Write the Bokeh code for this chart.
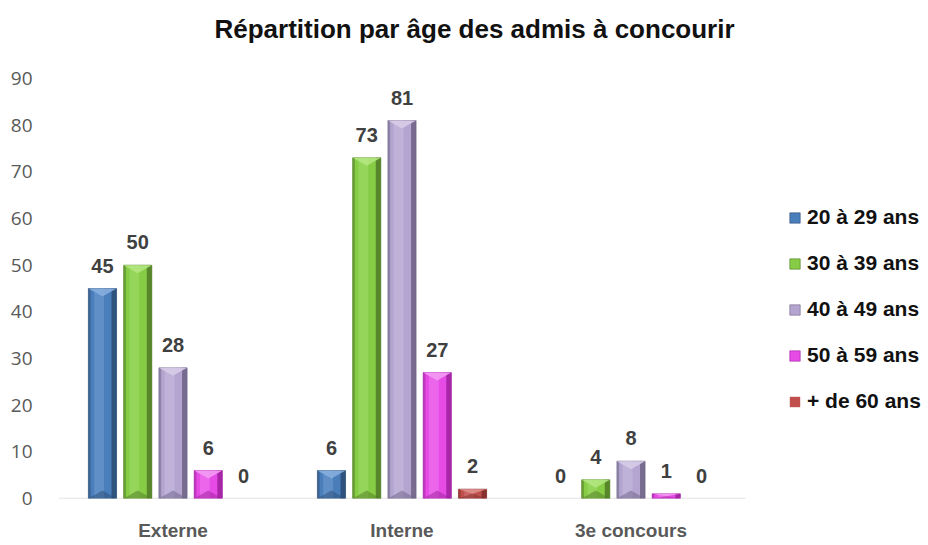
from bokeh.plotting import figure
from bokeh.models import Legend, LegendItem, Label, FixedTicker, ColumnDataSource
from bokeh.core.properties import value
from bokeh.embed import file_html
from bokeh.resources import INLINE

# ---------------- data ----------------
title_text = "Répartition par âge des admis à concourir"
groups = ["Externe", "Interne", "3e concours"]
series_names = ["20 à 29 ans", "30 à 39 ans", "40 à 49 ans", "50 à 59 ans", "+ de 60 ans"]
v_20_29 = [45, 6, 0]
v_30_39 = [50, 73, 4]
v_40_49 = [28, 81, 8]
v_50_59 = [6, 27, 1]
v_60_plus = [0, 2, 0]
y_ticks = [0, 10, 20, 30, 40, 50, 60, 70, 80, 90]

series_values = [v_20_29, v_30_39, v_40_49, v_50_59, v_60_plus]

# colours: main, dark (shadow), light (highlight)
main_cols = ["#4A7EBB", "#86CC45", "#B3A5CF", "#E64BE6", "#C0504D"]
dark_cols = ["#2B4B73", "#4F7A26", "#6C6285", "#9C1F9C", "#7E2C2A"]
light_cols = ["#86AEDE", "#B3E57F", "#D6CCE8", "#F39AF3", "#DE8F8C"]

FONT = "Liberation Sans"

W, H = 928, 545
frame_left, frame_bottom = 58, 498
px_x = 229.0          # pixels per category unit
px_y = 420.0 / 90.0   # pixels per value unit
x_end = -0.5 + (W - frame_left) / px_x
y_end = frame_bottom / px_y

p = figure(width=W, height=H, output_backend="svg", toolbar_location=None,
           x_range=(-0.5, x_end), y_range=(0, y_end),
           min_border_left=frame_left, min_border_right=0, min_border_top=0,
           min_border_bottom=H - frame_bottom)
p.outline_line_color = None
p.grid.grid_line_color = None
p.background_fill_color = "white"
p.border_fill_color = "white"

# category baseline
p.segment(x0=[-0.5], y0=[0], x1=[len(groups) - 0.5], y1=[0], line_color="#D9D9D9", line_width=1.5)

offset = 0.154
bw = 0.123
edge_r = 0.022
edge_l = 0.010
bevel_px = 8.0

legend_items = []
for i, (name, vals) in enumerate(zip(series_names, series_values)):
    xs = [g + (i - 2) * offset for g in range(len(groups))]
    src = ColumnDataSource(dict(x=xs, top=vals, lab=[str(v) for v in vals],
                                la=[1.0 if v > 0 else 0.0 for v in vals]))
    r = p.vbar(x="x", top="top", width=bw, source=src, fill_color=main_cols[i],
               line_color=dark_cols[i], line_width=0.6, line_alpha="la")
    # right shadow strip
    p.vbar(x=[x + bw / 2 - edge_r / 2 for x in xs], top=vals, width=edge_r,
           fill_color=dark_cols[i], line_color=None, fill_alpha=0.85)
    # left darker edge
    p.vbar(x=[x - bw / 2 + edge_l / 2 for x in xs], top=vals, width=edge_l,
           fill_color=dark_cols[i], line_color=None, fill_alpha=0.5)
    # light center band
    p.vbar(x=[x - bw * 0.12 for x in xs], top=vals, width=bw * 0.35,
           fill_color=light_cols[i], line_color=None, fill_alpha=0.35)
    # top bevel (light) and bottom bevel (dark)
    top_xs, top_ys, bot_xs, bot_ys = [], [], [], []
    for x, v in zip(xs, vals):
        if v <= 0:
            continue
        bh = min(bevel_px / px_y, v / 2.0)
        top_xs.append([x - bw / 2, x + bw / 2, x])
        top_ys.append([v, v, v - bh])
        bot_xs.append([x - bw / 2, x + bw / 2, x])
        bot_ys.append([0, 0, bh])
    if top_xs:
        p.patches(top_xs, top_ys, fill_color=light_cols[i], line_color=None, fill_alpha=0.9)
        p.patches(bot_xs, bot_ys, fill_color=dark_cols[i], line_color=None, fill_alpha=0.5)
    # data labels
    p.text(x="x", y="top", text="lab", source=src, text_align="center", text_baseline="middle",
           y_offset=-23, text_font=value(FONT), text_font_style="bold",
           text_font_size="20px", text_color="#404040")
    legend_items.append(LegendItem(label=name, renderers=[r]))

# axes
p.yaxis.ticker = FixedTicker(ticks=y_ticks)
p.yaxis.axis_line_color = None
p.yaxis.major_tick_line_color = None
p.yaxis.minor_tick_line_color = None
p.yaxis.major_tick_out = 0
p.yaxis.major_label_standoff = 26
p.yaxis.major_label_text_font = "Open Sans"
p.yaxis.major_label_text_font_size = "19px"
p.yaxis.major_label_text_color = "#595959"

p.xaxis.ticker = FixedTicker(ticks=list(range(len(groups))))
p.xaxis.major_label_overrides = {i: g for i, g in enumerate(groups)}
p.xaxis.axis_line_color = None
p.xaxis.major_tick_line_color = None
p.xaxis.minor_tick_line_color = None
p.xaxis.major_tick_out = 0
p.xaxis.major_label_standoff = 21
p.xaxis.major_label_text_font = FONT
p.xaxis.major_label_text_font_style = "bold"
p.xaxis.major_label_text_font_size = "19px"
p.xaxis.major_label_text_color = "#595959"

# legend
legend = Legend(items=legend_items, location=(730, 85), orientation="vertical",
                padding=0, margin=0, glyph_width=13, glyph_height=13, label_standoff=6,
                label_height=24, spacing=22, label_text_font=FONT, label_text_font_style="bold",
                label_text_font_size="21px", label_text_color="#111111",
                label_text_baseline="middle",
                border_line_color=None, background_fill_alpha=0)
p.add_layout(legend, "center")

# title
title = Label(x=-0.5 + (474 - frame_left) / px_x, y=(frame_bottom - 28) / px_y,
              text=title_text, text_align="center", text_baseline="middle",
              text_font=FONT, text_font_style="bold", text_font_size="26px",
              text_color="#111111")
p.add_layout(title)

open("out.html", "w").write(file_html(p, INLINE))
